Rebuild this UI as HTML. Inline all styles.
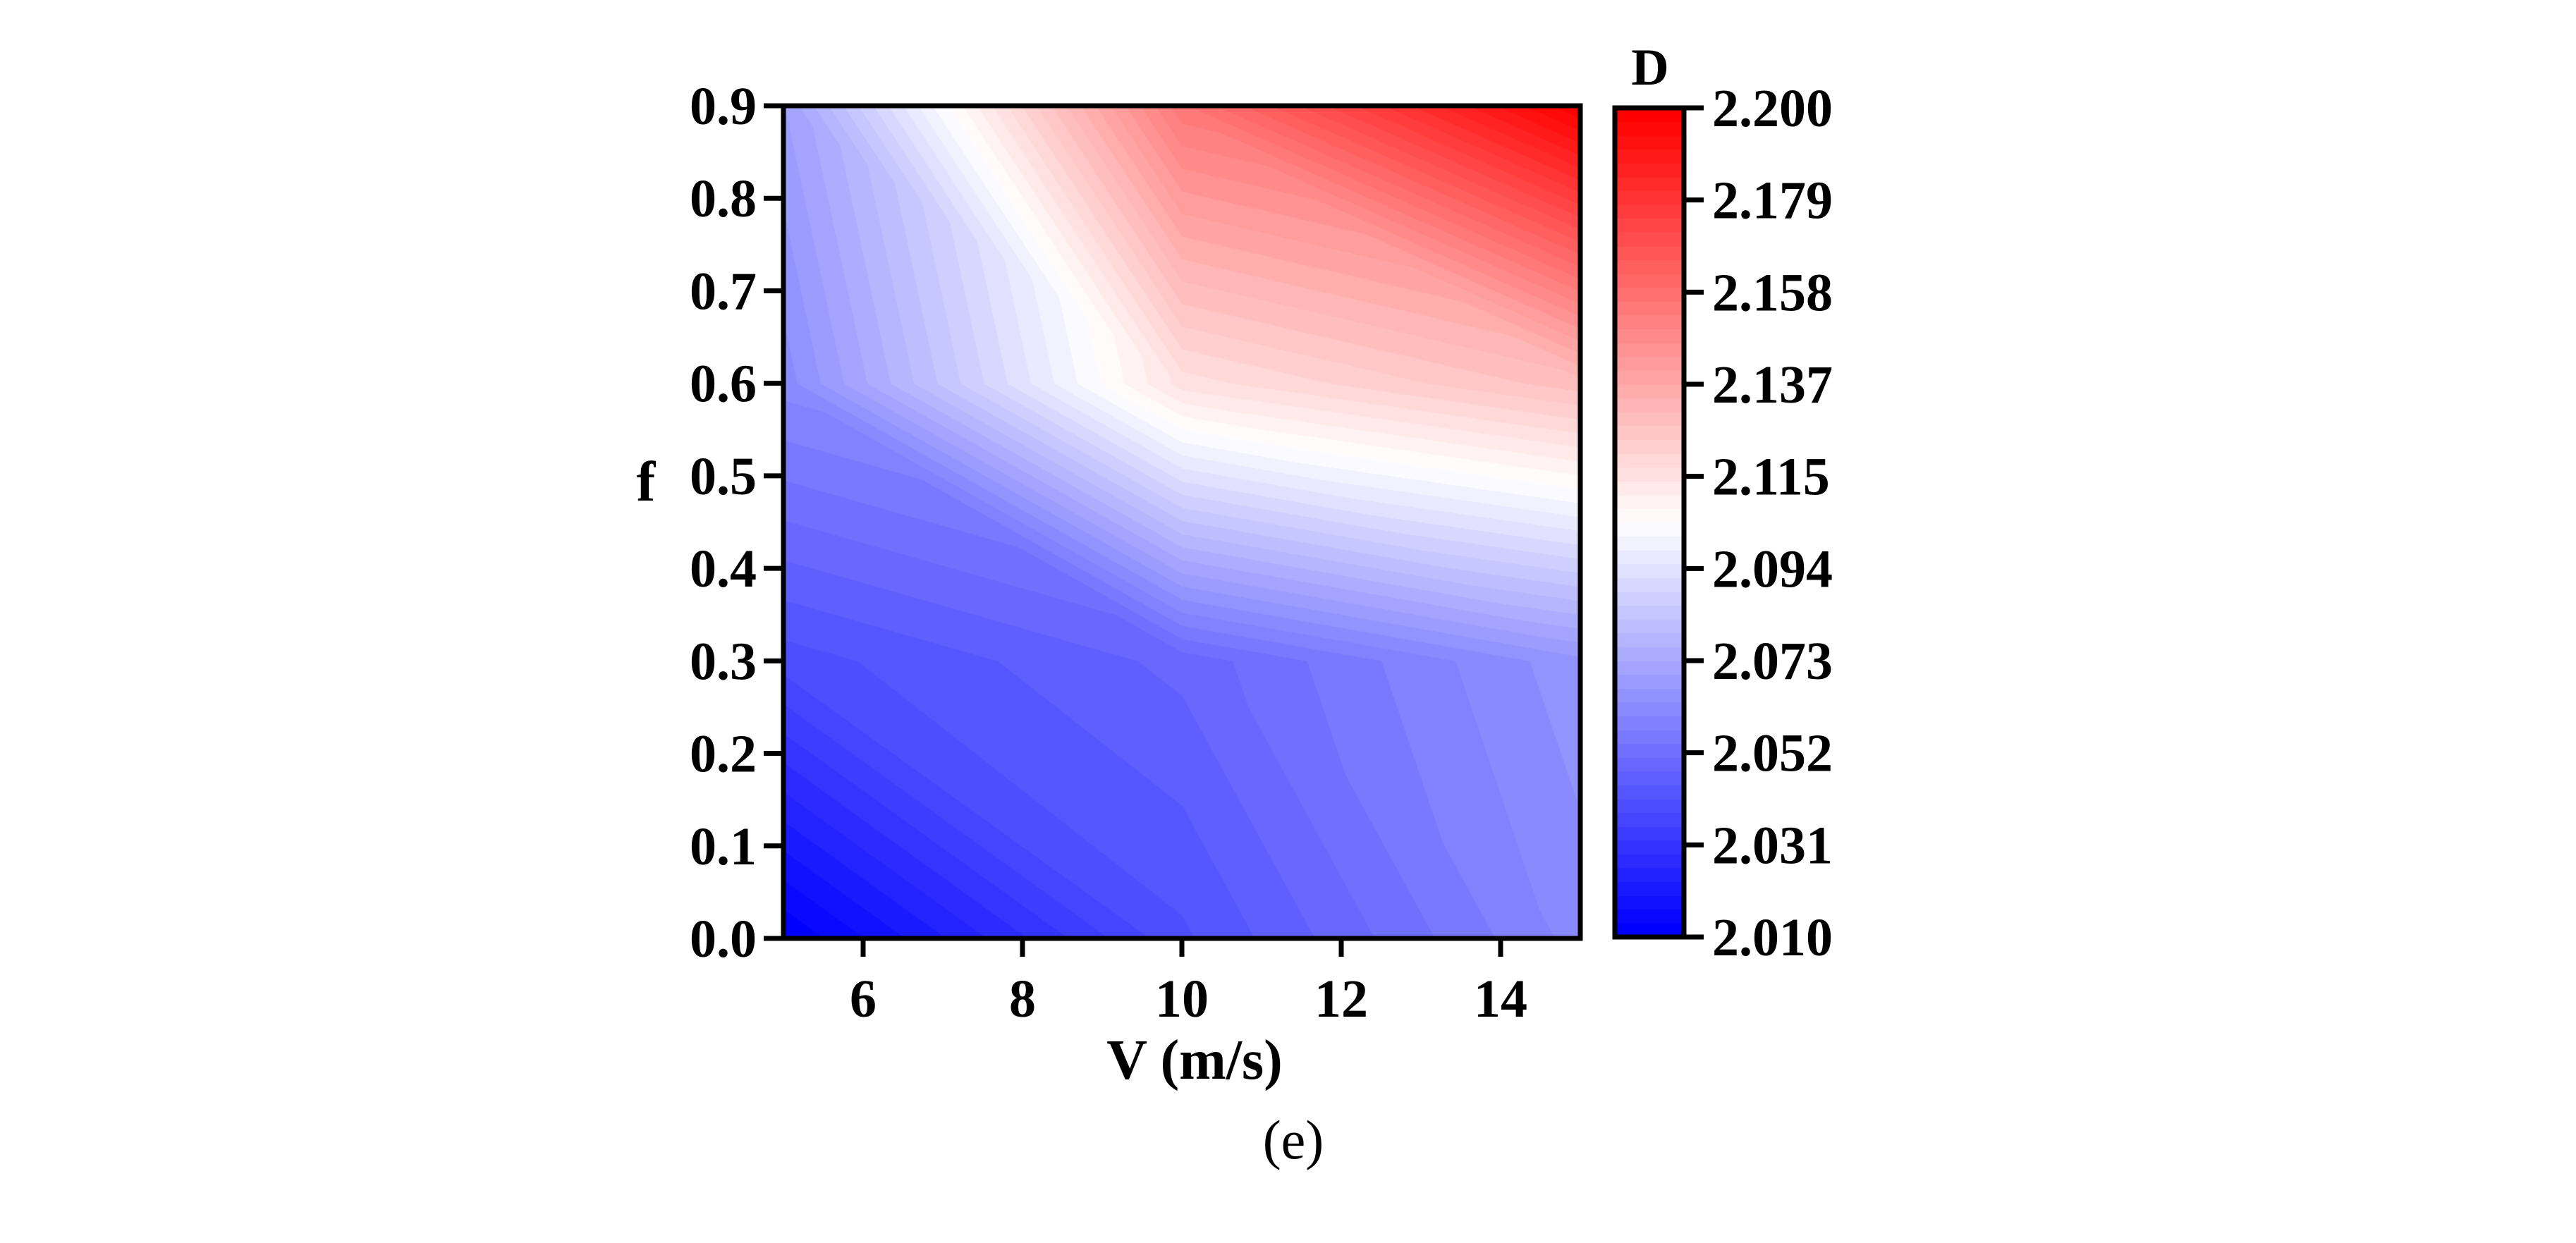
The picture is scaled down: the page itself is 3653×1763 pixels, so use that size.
<!DOCTYPE html>
<html><head><meta charset="utf-8"><style>
html,body{margin:0;padding:0;background:#fff;}
#wrap{position:relative;width:3653px;height:1763px;overflow:hidden;background:#fff;}
canvas{position:absolute;}
svg{position:absolute;left:0;top:0;}
text{font-family:"Liberation Serif",serif;font-weight:bold;fill:#000;}
text.normal{font-weight:normal;}
</style></head><body>
<div id="wrap">
<canvas id="plot"></canvas>
<canvas id="cbar"></canvas>
<svg id="axes" width="3653" height="1763"></svg>
</div>
<script>
// data
const vGrid = [5, 10, 15];
const fGrid = [0, 0.3, 0.6, 0.9];
// dValues[fi][vi]
const dRow0 = [2.010, 2.041, 2.062];
const dRow1 = [2.040, 2.049, 2.066];
const dRow2 = [2.062, 2.116, 2.129];
const dRow3 = [2.070, 2.155, 2.200];
const dValues = [dRow0, dRow1, dRow2, dRow3];
const xTicks = [6, 8, 10, 12, 14];
const yTicks = [0.0, 0.1, 0.2, 0.3, 0.4, 0.5, 0.6, 0.7, 0.8, 0.9];
const cbTicks = ["2.200","2.179","2.158","2.137","2.115","2.094","2.073","2.052","2.031","2.010"];
const dMin = 2.010, dMax = 2.200, nLevels = 60;

// layout
const X0 = 1111, X1 = 2241, Y0 = 1331, Y1 = 150;
const xs = v => X0 + (v - 5) / 10 * (X1 - X0);
const ys = f => Y0 - f / 0.9 * (Y0 - Y1);
const CB = {x0: 2290, x1: 2388, y0: 1329, y1: 153};

function colorOf(d) {
  let t = (d - dMin) / (dMax - dMin);
  t = Math.max(0, Math.min(1, t));
  t = Math.min(nLevels - 1, Math.floor(t * nLevels)) / (nLevels - 1);
  if (t < 0.5) { const s = t / 0.5; return [255 * s, 255 * s, 255]; }
  const s = (t - 0.5) / 0.5; return [255, 255 * (1 - s), 255 * (1 - s)];
}
function interp(v, f) {
  let i = 0; while (i < vGrid.length - 2 && v > vGrid[i + 1]) i++;
  let j = 0; while (j < fGrid.length - 2 && f > fGrid[j + 1]) j++;
  const u = (v - vGrid[i]) / (vGrid[i + 1] - vGrid[i]);
  const w = (f - fGrid[j]) / (fGrid[j + 1] - fGrid[j]);
  const a = dValues[j][i], b = dValues[j][i + 1], c = dValues[j + 1][i], d = dValues[j + 1][i + 1];
  if (u + w <= 1) return a + (b - a) * u + (c - a) * w;
  return d + (c - d) * (1 - u) + (b - d) * (1 - w);
}
// plot canvas
const pc = document.getElementById('plot');
const W = X1 - X0, H = Y0 - Y1;
pc.width = W; pc.height = H; pc.style.left = X0 + 'px'; pc.style.top = Y1 + 'px';
const ctx = pc.getContext('2d');
const img = ctx.createImageData(W, H);
for (let py = 0; py < H; py++) {
  const f = 0.9 * (1 - py / H);
  for (let px = 0; px < W; px++) {
    const v = 5 + 10 * px / W;
    const c = colorOf(interp(v, f));
    const k = (py * W + px) * 4;
    img.data[k] = c[0]; img.data[k + 1] = c[1]; img.data[k + 2] = c[2]; img.data[k + 3] = 255;
  }
}
ctx.putImageData(img, 0, 0);
// colorbar canvas
const cc = document.getElementById('cbar');
const CW = CB.x1 - CB.x0, CH = CB.y0 - CB.y1;
cc.width = CW; cc.height = CH; cc.style.left = CB.x0 + 'px'; cc.style.top = CB.y1 + 'px';
const cx = cc.getContext('2d');
for (let py = 0; py < CH; py++) {
  const c = colorOf(dMax - (dMax - dMin) * py / CH);
  cx.fillStyle = `rgb(${c[0]|0},${c[1]|0},${c[2]|0})`;
  cx.fillRect(0, py, CW, 1);
}
// axes
const svg = document.getElementById('axes');
const NS = 'http://www.w3.org/2000/svg';
function mk(tag, attrs, txt) {
  const e = document.createElementNS(NS, tag);
  for (const k in attrs) e.setAttribute(k, attrs[k]);
  if (txt !== undefined) e.textContent = txt;
  svg.appendChild(e); return e;
}
let e;
e = mk('rect', {x: X0, y: Y1, width: W, height: H, fill: 'none', stroke: '#000', 'stroke-width': 7});


e = mk('rect', {x: CB.x0, y: CB.y1, width: CW, height: CH, fill: 'none', stroke: '#000', 'stroke-width': 7});


xTicks.forEach(v => {
  const x = xs(v);
  e = mk('line', {x1: x, x2: x, y1: Y0, y2: Y0 + 26, stroke: '#000', 'stroke-width': 7});
  
  
  e = mk('text', {x: x, y: Y0 + 111, 'font-size': 76, 'text-anchor': 'middle'}, String(v));
  
  
});
yTicks.forEach(f => {
  const y = ys(f);
  e = mk('line', {x1: X0 - 28, x2: X0, y1: y, y2: y, stroke: '#000', 'stroke-width': 7});
  
  
  e = mk('text', {x: X0 - 38, y: y + 26, 'font-size': 76, 'text-anchor': 'end'}, f.toFixed(1));
  
  
});
cbTicks.forEach((t, i) => {
  const y = CB.y1 + i * CH / (cbTicks.length - 1);
  e = mk('line', {x1: CB.x1, x2: CB.x1 + 28, y1: y, y2: y, stroke: '#000', 'stroke-width': 7});
  
  
  e = mk('text', {x: CB.x1 + 40, y: y + 26, 'font-size': 76}, t);
  
  
});
e = mk('text', {x: 1694, y: 1530, 'font-size': 80, 'text-anchor': 'middle'}, 'V (m/s)');


e = mk('text', {x: 916, y: 710, 'font-size': 80, 'text-anchor': 'middle'}, 'f');


e = mk('text', {x: 2340, y: 120, 'font-size': 74, 'text-anchor': 'middle'}, 'D');


e = mk('text', {x: 1834, y: 1643, 'font-size': 78, 'text-anchor': 'middle', 'class': 'normal'}, '(e)');


</script>
</body></html>
